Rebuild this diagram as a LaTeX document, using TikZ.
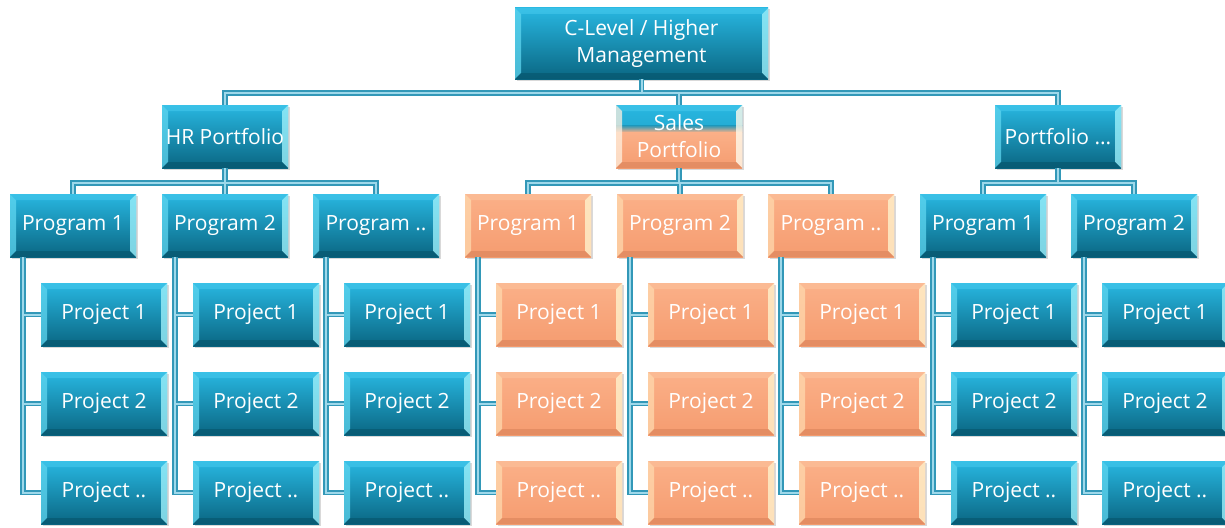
\documentclass[tikz,border=0pt]{standalone}
\usepackage{fontspec}
\setmainfont{Open Sans}
\usetikzlibrary{calc,shadows}
\definecolor{bTop}{HTML}{28B7E1}
\definecolor{bBot}{HTML}{0A6682}
\definecolor{bLeft}{HTML}{5FD6F0}
\definecolor{bRight}{HTML}{9BEFFA}
\definecolor{bUp}{HTML}{45C8EC}
\definecolor{bDown}{HTML}{06546B}
\definecolor{oTop}{HTML}{FBB088}
\definecolor{oBot}{HTML}{F59C70}
\definecolor{oLeft}{HTML}{FFD9AE}
\definecolor{oRight}{HTML}{FFF2CC}
\definecolor{oUp}{HTML}{FCC29C}
\definecolor{oDown}{HTML}{D9835A}
\definecolor{connD}{HTML}{3298B8}
\definecolor{connL}{HTML}{9ED8EA}
\newcommand\mybevel[4]{%
  \fill[#1,opacity=.75] (path picture bounding box.north west) -- (path picture bounding box.south west)
     -- ++(6pt,6pt) -- ($(path picture bounding box.north west)+(6pt,-6pt)$) -- cycle;
  \fill[#2,opacity=.8] (path picture bounding box.north east) -- (path picture bounding box.south east)
     -- ++(-6pt,6pt) -- ($(path picture bounding box.north east)+(-6pt,-6pt)$) -- cycle;
  \fill[#3,opacity=.6] (path picture bounding box.north west) -- (path picture bounding box.north east)
     -- ++(-6pt,-6pt) -- ($(path picture bounding box.north west)+(6pt,-6pt)$) -- cycle;
  \fill[#4,opacity=.6] (path picture bounding box.south west) -- (path picture bounding box.south east)
     -- ++(-6pt,6pt) -- ($(path picture bounding box.south west)+(6pt,6pt)$) -- cycle;
}
\tikzset{
  box/.style={minimum width=126pt, minimum height=63pt, inner sep=0pt, text=white,
    font=\fontsize{21}{27}\selectfont, align=center,
    drop shadow={opacity=0.3, shadow xshift=1.5pt, shadow yshift=-1.5pt}},
  bluebox/.style={box, top color=bTop, bottom color=bBot,
    path picture={\mybevel{bLeft}{bRight}{bUp}{bDown}}},
  orangebox/.style={box, top color=oTop, bottom color=oBot,
    path picture={\mybevel{oLeft}{oRight}{oUp}{oDown}}},
  splitbox/.style={box, fill=bTop,
    path picture={%
      \fill[top color=bTop, bottom color=bTop!60!bBot] (path picture bounding box.north west) rectangle ($(path picture bounding box.east)+(0,11pt)$);
      \fill[top color=bTop!60!bBot, bottom color=oTop] ($(path picture bounding box.west)+(0,11.5pt)$) rectangle ($(path picture bounding box.east)+(0,4pt)$);
      \fill[top color=oTop, bottom color=oBot] ($(path picture bounding box.west)+(0,4.5pt)$) rectangle (path picture bounding box.south east);
      \mybevel{white!60!oLeft}{white!60!oRight}{bUp}{oDown}}},
}
\begin{document}
\begin{tikzpicture}[x=1pt,y=-1pt]
\useasboundingbox (0,0) rectangle (1225,527);
\node[bluebox, minimum width=253pt, minimum height=71pt] (top) at (641.5,43.5) {C-Level / Higher\\Management};
\node[bluebox] (HR) at (225,136.5) {HR Portfolio};
\node[splitbox] (Sa) at (679,136.5) {Sales\\Portfolio};
\node[bluebox] (Pd) at (1058,136.5) {Portfolio ...};
\foreach \n/\x/\s/\t in {A1/73/bluebox/Program 1, A2/225/bluebox/Program 2, A3/376/bluebox/Program ..,
  B1/528/orangebox/Program 1, B2/680/orangebox/Program 2, B3/831/orangebox/Program ..,
  C1/983/bluebox/Program 1, C2/1134/bluebox/Program 2} {
  \node[\s] (\n) at (\x,225.5) {\t};
  \node[\s] (\n-1) at (\x+31,314.5) {Project 1};
  \node[\s] (\n-2) at (\x+31,403.5) {Project 2};
  \node[\s] (\n-3) at (\x+31,492.5) {Project ..};
}
\foreach \w/\c in {5.5/connD, 2/connL} {
  \begin{scope}[line width=\w pt, draw=\c]
  \draw (HR.north) -- ++(0,-12) -| (Pd.north);
  \draw (top.south) -- ++(0,14);
  \draw (Sa.north) -- ++(0,-12);
  \draw (A1.north) -- ++(0,-11) -| (A3.north);
  \draw (HR.south) -- (A2.north);
  \draw (B1.north) -- ++(0,-11) -| (B3.north);
  \draw (B2.north) -- ++(0,-11);
  \draw (Sa.south) -- ++(0,15);
  \draw (C1.north) -- ++(0,-11) -| (C2.north);
  \draw (Pd.south) -- ++(0,15);
  \foreach \n in {A1,A2,A3,B1,B2,B3,C1,C2} {
    \foreach \k in {1,2,3} {
      \draw ([xshift=13pt]\n.south west) |- (\n-\k.west);
    }
  }
  \end{scope}
}
\end{tikzpicture}
\end{document}
